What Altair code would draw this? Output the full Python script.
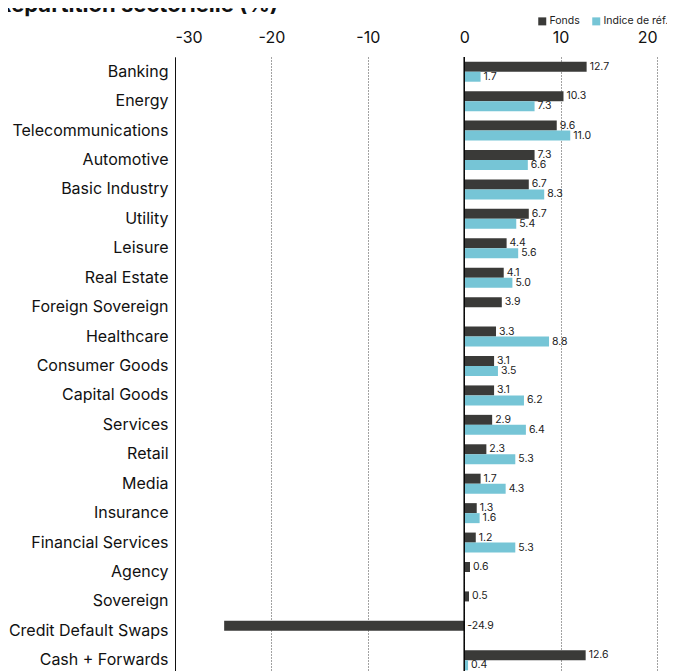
import altair as alt
import pandas as pd

title_text = "Répartition sectorielle (%)"
categories = ["Banking", "Energy", "Telecommunications", "Automotive", "Basic Industry",
              "Utility", "Leisure", "Real Estate", "Foreign Sovereign", "Healthcare",
              "Consumer Goods", "Capital Goods", "Services", "Retail", "Media",
              "Insurance", "Financial Services", "Agency", "Sovereign",
              "Credit Default Swaps", "Cash + Forwards"]
fonds = [12.7, 10.3, 9.6, 7.3, 6.7, 6.7, 4.4, 4.1, 3.9, 3.3, 3.1, 3.1, 2.9, 2.3, 1.7,
         1.3, 1.2, 0.6, 0.5, -24.9, 12.6]
indice = [1.7, 7.3, 11.0, 6.6, 8.3, 5.4, 5.6, 5.0, None, 8.8, 3.5, 6.2, 6.4, 5.3, 4.3,
          1.6, 5.3, None, None, None, 0.4]
series = ["Fonds", "Indice de réf."]
colors = ["#3a3a38", "#76c5d6"]
x_ticks = [-30, -20, -10, 0, 10, 20]

rows = []
for c, f, i in zip(categories, fonds, indice):
    rows.append({"cat": c, "series": series[0], "value": f})
    if i is not None:
        rows.append({"cat": c, "series": series[1], "value": i})
df = pd.DataFrame(rows)
df["lx"] = df["value"].clip(lower=0)
df["label"] = df["value"].map(lambda v: f"{v:.1f}")

FONT = "Inter"

y_enc = alt.Y("cat:N", sort=categories,
              scale=alt.Scale(paddingInner=0.32, paddingOuter=0.16),
              axis=alt.Axis(title=None, domain=True, domainColor="#111", domainWidth=1,
                            ticks=False, labelPadding=7, labelFontSize=16,
                            labelColor="#111", labelFont=FONT))
yoff = alt.YOffset("series:N", sort=series)

base = alt.Chart(df)

bars = base.mark_bar().encode(
    x=alt.X("value:Q", scale=alt.Scale(domain=[-30, 20], nice=False),
            axis=alt.Axis(orient="top", title=None, values=x_ticks, domain=False,
                          ticks=False, grid=True, gridDash=[1, 2], gridColor="#444",
                          gridWidth=1, labelFontSize=16, labelColor="#111",
                          labelFont=FONT, labelPadding=12,
                          labelExpr="'' + datum.value")),
    y=y_enc,
    yOffset=yoff,
    color=alt.Color("series:N", sort=series,
                    scale=alt.Scale(domain=series, range=colors),
                    legend=alt.Legend(title=None, orient="none", direction="horizontal",
                                      legendX=362, legendY=-41, symbolType="square",
                                      symbolSize=64, symbolStrokeWidth=0,
                                      labelFontSize=10.5, labelFont=FONT,
                                      labelColor="#222", labelOffset=2,
                                      columnPadding=11)),
)

labels = base.mark_text(align="left", baseline="middle", dx=3, fontSize=10.5,
                        font=FONT, color="#222").encode(
    x=alt.X("lx:Q"),
    y=y_enc,
    yOffset=yoff,
    text="label:N",
)

zero = alt.Chart(pd.DataFrame({"z": [0]})).mark_rule(color="#000", strokeWidth=1.5).encode(
    x="z:Q"
)

title = alt.Chart(pd.DataFrame({"t": [title_text]})).mark_text(
    align="left", baseline="alphabetic", fontSize=22, fontWeight="bold",
    font=FONT, color="#111"
).encode(x=alt.value(-178), y=alt.value(-45), text="t:N")

chart = alt.layer(bars, zero, labels, title).properties(
    width=482, height=618,
    autosize=alt.AutoSizeParams(type="none"),
    padding={"left": 167, "top": 49, "right": 10, "bottom": 0},
).configure_view(stroke=None)

chart.save("out.html", embed_options={"renderer": "svg", "actions": False})
